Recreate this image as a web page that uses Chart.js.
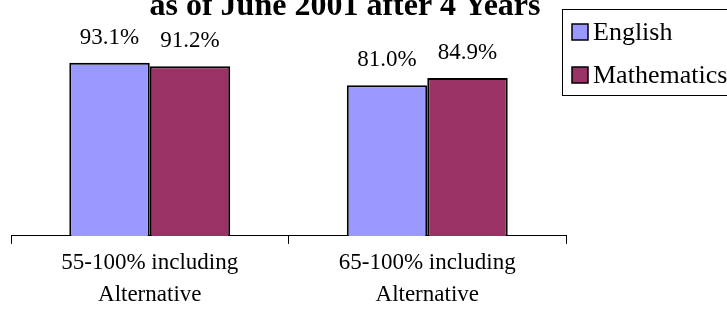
<!DOCTYPE html>
<html>
<head>
<meta charset="utf-8">
<script src="https://cdn.jsdelivr.net/npm/chart.js@4/dist/chart.umd.min.js"></script>
<style>
html,body{margin:0;padding:0;background:#fff;}
#wrap{width:727px;height:314px;}
</style>
</head>
<body>
<div id="wrap"><canvas id="c" width="727" height="314"></canvas></div>
<script>
const categories = [["55-100% including","Alternative"],["65-100% including","Alternative"]];
const seriesNames = ["English","Mathematics"];
const english = [93.1, 81.0];
const mathematics = [91.2, 84.9];
const titleText = "as of June 2001 after 4 Years";

const colors = ["#9999FF","#993366"];
const SERIF = "'Liberation Serif','Times New Roman',serif";

const overlay = {
  id:'overlay',
  afterDatasetsDraw(chart){
    const ctx = chart.ctx;
    ctx.save();
    // data labels
    ctx.fillStyle = '#000';
    ctx.font = "23px " + SERIF;
    ctx.textAlign = 'center';
    ctx.textBaseline = 'alphabetic';
    chart.data.datasets.forEach((ds,di)=>{
      const meta = chart.getDatasetMeta(di);
      meta.data.forEach((bar,i)=>{
        ctx.fillText(ds.data[i].toFixed(1)+'%', bar.x, bar.y - 19);
      });
    });
    // title (its first line lies above the picture)
    ctx.font = "bold 32px " + SERIF;
    ctx.fillText(titleText, 345, 15);
    // legend
    const lx = 562, ly = 9, lw = 170, lh = 86;
    ctx.strokeStyle = '#000';
    ctx.lineWidth = 1;
    ctx.strokeRect(lx+0.5, ly+0.5, lw, lh);
    ctx.textAlign = 'left';
    ctx.font = "26px " + SERIF;
    chart.data.datasets.forEach((ds,di)=>{
      const cy = ly + 23 + di*43;
      ctx.fillStyle = ds.backgroundColor;
      ctx.fillRect(lx+10, cy-8, 16, 16);
      ctx.strokeStyle = '#000';
      ctx.lineWidth = 1.5;
      ctx.strokeRect(lx+10, cy-8, 16, 16);
      ctx.fillStyle = '#000';
      ctx.textBaseline = 'middle';
      ctx.fillText(ds.label, lx+31, cy+1);
    });
    ctx.restore();
  }
};

new Chart(document.getElementById('c'), {
  type:'bar',
  data:{
    labels: categories,
    datasets:[
      {label: seriesNames[0], data: english, backgroundColor: colors[0], borderColor:'#000', borderWidth:2, borderSkipped:'bottom'},
      {label: seriesNames[1], data: mathematics, backgroundColor: colors[1], borderColor:'#000', borderWidth:2, borderSkipped:'bottom'}
    ]
  },
  options:{
    responsive:false,
    animation:false,
    devicePixelRatio:1,
    layout:{padding:{left:11, right:161, top:50, bottom:0}},
    datasets:{bar:{categoryPercentage:0.58, barPercentage:1.0}},
    plugins:{legend:{display:false}, tooltip:{enabled:false}, title:{display:false}},
    scales:{
      y:{display:false, min:0, max:100},
      x:{
        grid:{display:true, drawOnChartArea:false, drawTicks:true, tickLength:8, color:'#000', offset:true},
        border:{display:true, color:'#000', width:1},
        ticks:{color:'#000', font:{family:SERIF, size:23, lineHeight:1.35}, padding:4, maxRotation:0},
      }
    }
  },
  plugins:[overlay]
});
</script>
</body>
</html>
